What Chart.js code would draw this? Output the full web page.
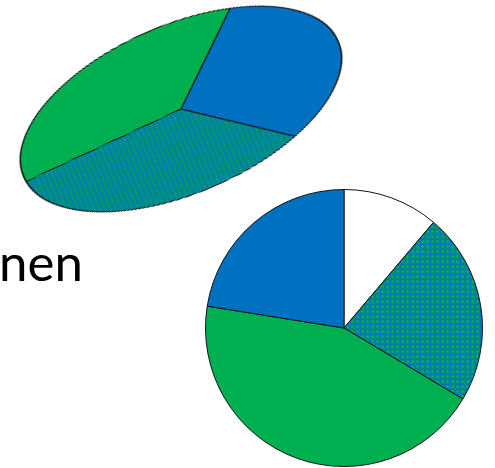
<!DOCTYPE html>
<html>
<head>
<meta charset="utf-8">
<script src="https://cdn.jsdelivr.net/npm/chart.js@4.4.0/dist/chart.umd.min.js"></script>
<style>
  html, body { margin: 0; padding: 0; background: #fff; overflow: hidden; }
  body { width: 495px; height: 468px; position: relative; }
  #tiltWrap {
    position: absolute; left: 9px; top: -63px; width: 344px; height: 344px;
    transform: rotate(-23.4deg) scaleY(0.491); transform-origin: 50% 50%;
  }
  #roundWrap { position: absolute; left: 205px; top: 189px; width: 278px; height: 278px; }
  .label {
    position: absolute; left: -1px; top: 236px; margin: 0;
    font-family: Lato, "Open Sans", sans-serif; font-size: 51px; line-height: 1; color: #000;
  }
</style>
</head>
<body>
<div class="label">nen</div>
<div id="tiltWrap"><canvas id="tiltPie" width="344" height="344"></canvas></div>
<div id="roundWrap"><canvas id="roundPie" width="278" height="278"></canvas></div>
<script>
// tilted (flattened) pie, clockwise from the first boundary
const tiltLabels = ['Blau', 'Gemischt', 'Grün'];
const tiltValues = [32.5, 33.3, 34.2];
const tiltStart = 29.8; // degrees clockwise from top

// round pie, clockwise from the top
const roundLabels = ['Weiß', 'Gemischt', 'Grün', 'Blau'];
const roundValues = [11.2, 22.4, 44.0, 22.5];

const BLUE = '#0070C0';
const GREEN = '#00B050';

function makePattern() {
    const c = document.createElement('canvas');
    c.width = 5;
    c.height = 5;
    const g = c.getContext('2d');
    g.fillStyle = BLUE;
    g.fillRect(0, 0, 5, 5);
    g.fillStyle = 'rgba(0,176,80,0.55)';
    g.fillRect(1, 1, 3, 3);
    g.fillStyle = GREEN;
    g.fillRect(1, 2, 3, 1);
    g.fillRect(2, 1, 1, 3);
    g.fillStyle = 'rgba(0,176,80,0.35)';
    g.fillRect(0, 4, 5, 1);
    g.fillRect(4, 0, 1, 5);
    return g.createPattern(c, 'repeat');
}

const mixed = makePattern();

function pieOptions(rotation) {
    return {
        responsive: false,
        animation: false,
        events: [],
        rotation: rotation,
        layout: { padding: 0 },
        plugins: {
            legend: { display: false },
            tooltip: { enabled: false }
        }
    };
}

new Chart(document.getElementById('tiltPie').getContext('2d'), {
    type: 'pie',
    data: {
        labels: tiltLabels,
        datasets: [{
            data: tiltValues,
            backgroundColor: [BLUE, mixed, GREEN],
            borderColor: '#111',
            borderWidth: 1.6
        }]
    },
    options: Object.assign(pieOptions(tiltStart), { devicePixelRatio: 2 })
});

new Chart(document.getElementById('roundPie').getContext('2d'), {
    type: 'pie',
    data: {
        labels: roundLabels,
        datasets: [{
            data: roundValues,
            backgroundColor: ['#ffffff', mixed, GREEN, BLUE],
            borderColor: '#111',
            borderWidth: 1
        }]
    },
    options: pieOptions(0)
});
</script>
</body>
</html>
